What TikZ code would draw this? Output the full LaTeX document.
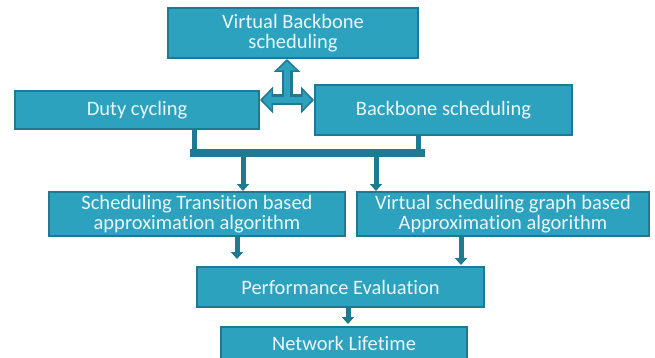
\documentclass[tikz,border=0pt]{standalone}
\usepackage{fontspec}
\setmainfont{Carlito}[Ligatures=NoCommon]
\usetikzlibrary{arrows.meta,positioning}

\definecolor{boxfill}{HTML}{2CA2BF}
\definecolor{boxdark}{HTML}{1F7A91}
\definecolor{boxtext}{HTML}{EAF6F9}

\tikzset{
  stage/.style={rectangle, draw=boxdark, line width=2pt, fill=boxfill,
    text=boxtext, inner sep=0pt, align=center,
    font=\fontsize{20.5}{20}\selectfont},
  link/.style={draw=boxdark, line width=5pt},
  flow/.style={link, -{Triangle[width=12pt,length=7pt]}},
  % thick two-way arrow, outer and inner pass
  twoway/.style={draw=boxdark, line width=11pt,
    {Triangle[width=26pt,length=13pt]}-{Triangle[width=26pt,length=13pt]}},
  twowayin/.style={draw=boxfill, line width=6pt, shorten <=2.5pt, shorten >=2.5pt,
    {Triangle[width=19pt,length=9pt]}-{Triangle[width=19pt,length=9pt]}},
}

\begin{document}
\begin{tikzpicture}[x=1pt,y=-1pt]
  \useasboundingbox (0,0) rectangle (655,358);

  \node (vb) [stage, minimum width=250pt, minimum height=50pt] at (293,33)
    {Virtual Backbone\\scheduling};
  \node (duty) [stage, minimum width=244pt, minimum height=38pt] at (137,110)
    {Duty cycling};
  \node (bb) [stage, minimum width=257pt, minimum height=50pt] at (443.5,110)
    {Backbone scheduling};
  \node (st) [stage, minimum width=296pt, minimum height=44pt] at (197,214)
    {Scheduling Transition based\\approximation algorithm};
  \node (vsg) [stage, minimum width=292pt, minimum height=44pt] at (503,214)
    {Virtual scheduling graph based\\Approximation algorithm};
  \node (pe) [stage, minimum width=287pt, minimum height=40pt] at (340.5,287)
    {Performance Evaluation};
  \node (nl) [stage, minimum width=246pt, minimum height=32pt] at (344,343)
    {Network Lifetime};

  % T shaped arrow between the top three boxes
  \coordinate (jn) at (287,100);
  \draw[twoway] (duty.east |- jn) -- (bb.west |- jn);
  \draw[twoway, {Triangle[width=26pt,length=13pt]}-] (vb.south -| jn) -- (jn);
  \draw[twowayin] (duty.east |- jn) -- (bb.west |- jn);
  \draw[twowayin, {Triangle[width=19pt,length=9pt]}-, shorten >=-3pt] (vb.south -| jn) -- (jn);

  % bus below duty cycling and backbone scheduling
  \coordinate (busL) at (190,153);
  \coordinate (busR) at (425,153);
  \draw[link] ([xshift=57pt]duty.south) -- ([xshift=57pt]duty.south |- busL);
  \draw[link] ([xshift=-25.5pt]bb.south) -- ([xshift=-25.5pt]bb.south |- busL);
  \draw[draw=boxdark, line width=8pt] (busL) -- (busR);

  \draw[flow] ([xshift=46pt]st.north |- busL) -- ([xshift=46pt]st.north);
  \draw[flow] ([xshift=-127pt]vsg.north |- busL) -- ([xshift=-127pt]vsg.north);

  \draw[flow, shorten >=7pt] ([xshift=40pt]st.south) -- ([xshift=40pt]st.south |- pe.north);
  \draw[flow, shorten >=1pt] ([xshift=-42pt]vsg.south) -- ([xshift=-42pt]vsg.south |- pe.north);
  \draw[flow, shorten >=2pt] ([xshift=7.5pt]pe.south) -- ([xshift=7.5pt]pe.south |- nl.north);
\end{tikzpicture}
\end{document}
